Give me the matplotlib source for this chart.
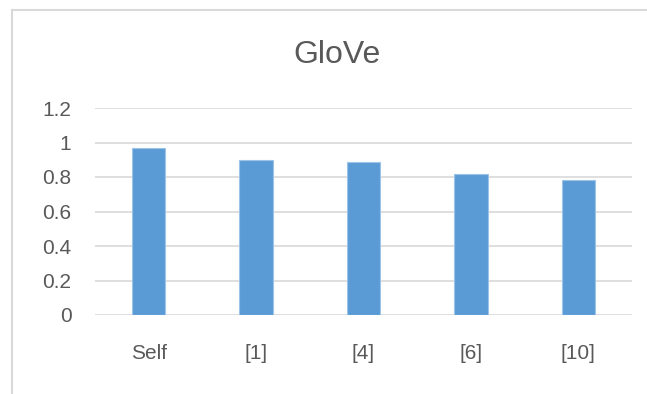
import matplotlib
matplotlib.use("Agg")
import matplotlib.pyplot as plt
from matplotlib.lines import Line2D

categories = ["Self", "[1]", "[4]", "[6]", "[10]"]
values = [0.966, 0.899, 0.885, 0.817, 0.781]
yticks = [0, 0.2, 0.4, 0.6, 0.8, 1.0, 1.2]
ytick_labels = ["0", "0.2", "0.4", "0.6", "0.8", "1", "1.2"]

plt.rcParams['font.family'] = ['Liberation Sans', 'DejaVu Sans']
W, H = 647, 394
fig = plt.figure(figsize=(W/100, H/100), dpi=100)
fig.patch.set_facecolor("white")

# chart frame
fx0, fy0 = 11.5/W, 1 - 10/H
fig.add_artist(Line2D([fx0, fx0], [-0.1, fy0], transform=fig.transFigure, color="#d9d9d9", lw=1.5))
fig.add_artist(Line2D([fx0, 1.1], [fy0, fy0], transform=fig.transFigure, color="#d9d9d9", lw=1.5))

ax = fig.add_axes([95/W, 1 - 315/H, (632-95)/W, (315-108)/H])
x = list(range(len(categories)))
ax.bar(x, values, width=0.31, color="#5B9BD5", edgecolor="#9DC3E6", linewidth=0.8, zorder=3)
ax.set_xlim(-0.5, len(categories) - 0.5)
ax.set_ylim(0, 1.2)
ax.set_yticks(yticks)
ax.set_yticklabels(ytick_labels)
ax.set_xticks(x)
ax.set_xticklabels(categories)
ax.grid(axis="y", color="#d9d9d9", linewidth=1.2, zorder=0)
for s in ax.spines.values():
    s.set_visible(False)
ax.tick_params(axis="both", length=0, colors="#595959", labelsize=15)
ax.tick_params(axis="y", pad=17)
ax.tick_params(axis="x", pad=21)
fig.text(337/W, 1 - 55/H, "GloVe", fontsize=23, color="#595959", ha="center", va="center")

fig.savefig("out.png", dpi=100, facecolor="white")
